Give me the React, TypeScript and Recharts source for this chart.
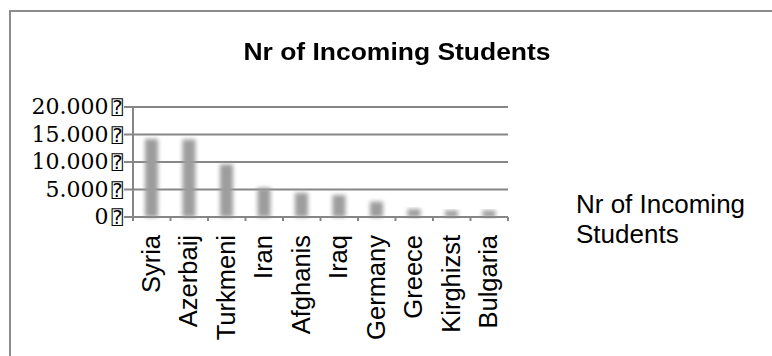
import { BarChart, Bar, XAxis, YAxis, CartesianGrid, Legend } from 'recharts';

// Incoming students per country of origin
const countries = ['Syria', 'Azerbaij', 'Turkmeni', 'Iran', 'Afghanis', 'Iraq', 'Germany', 'Greece', 'Kirghizst', 'Bulgaria'];
const students = [14200, 14100, 9600, 5300, 4400, 4000, 2800, 1450, 1200, 1200];
const yTicks = [0, 5000, 10000, 15000, 20000];
const seriesName = 'Nr of Incoming Students';

const data = countries.map((c, i) => ({ country: c, value: students[i] }));

const GRID = '#868686';
const SANS = "'Liberation Sans', Arial, sans-serif";

// 20000 -> "20.000"
const fmt = (v: number) => String(v).replace(/\B(?=(\d{3})+(?!\d))/g, '.');

function YTick(props: any) {
  const { x, y, payload } = props;
  return (
    <text x={x} y={y} dy={7} textAnchor="end" fontFamily="'DejaVu Serif', serif" fontSize={22} fill="#000">
      {fmt(payload.value)}
      <tspan dx={3} fontFamily="'DejaVu Sans Mono', 'DejaVu Sans', sans-serif" fontSize={19}>⍰</tspan>
    </text>
  );
}

function XTick(props: any) {
  const { x, y, payload, index } = props;
  const half = payload.offset || 18.75;
  return (
    <g>
      <line x1={x - half} y1={y} x2={x - half} y2={y + 4} stroke={GRID} strokeWidth={2} />
      {index === countries.length - 1 && (
        <line x1={x + half} y1={y} x2={x + half} y2={y + 4} stroke={GRID} strokeWidth={2} />
      )}
      <text
        x={x + 8}
        y={y + 18}
        transform={`rotate(-90, ${x + 8}, ${y + 18})`}
        textAnchor="end"
        fontFamily={SANS}
        fontSize={25.5}
        fill="#000"
      >
        {payload.value}
      </text>
    </g>
  );
}

// blurred bar, like the soft-edged columns of the original
function SoftBar(props: any) {
  const { x, y, width, height } = props;
  if (!height || height <= 0) return null;
  return <rect x={x} y={y} width={width} height={height} fill="#9d9d9d" filter="url(#soft)" />;
}

function LegendText(props: any) {
  const item = props.payload && props.payload[0];
  return (
    <div style={{ width: 190, fontFamily: SANS, fontSize: 26, lineHeight: '30px', color: '#000' }}>
      {item ? item.value : seriesName}
    </div>
  );
}

export default function App() {
  return (
    <div style={{ position: 'absolute', left: 0, top: 0, width: 772, height: 356, background: '#fff', overflow: 'hidden' }}>
      {/* chart frame, cut off at right and bottom */}
      <div style={{ position: 'absolute', left: 9, top: 10, width: 800, height: 400, borderLeft: '2px solid #8c8c8c', borderTop: '2px solid #8c8c8c' }} />
      <div
        style={{
          position: 'absolute',
          left: 0,
          width: 794,
          top: 41,
          textAlign: 'center',
          fontFamily: SANS,
          fontWeight: 'bold',
          fontSize: 23,
          lineHeight: '23px',
          transform: 'scaleX(1.15)',
          transformOrigin: '397px 0',
        }}
      >
        {seriesName}
      </div>
      <div style={{ position: 'absolute', left: 0, top: 0 }}>
        <BarChart width={772} height={356} data={data} margin={{ top: 107, right: 74, bottom: 0, left: 0 }} barCategoryGap={0}>
          <defs>
            <filter id="soft" x="-60%" y="-20%" width="220%" height="140%">
              <feGaussianBlur stdDeviation="2" />
            </filter>
          </defs>
          <XAxis
            dataKey="country"
            interval={0}
            tickLine={false}
            tickSize={0}
            tickMargin={0}
            height={139}
            axisLine={{ stroke: GRID, strokeWidth: 2 }}
            tick={<XTick />}
          />
          <YAxis
            width={133}
            domain={[0, 20000]}
            ticks={yTicks}
            interval={0}
            tickSize={9}
            tickMargin={1}
            tickLine={{ stroke: GRID, strokeWidth: 2 }}
            axisLine={{ stroke: GRID, strokeWidth: 2 }}
            tick={<YTick />}
          />
          <Legend
            layout="vertical"
            align="right"
            verticalAlign="middle"
            content={<LegendText />}
            wrapperStyle={{ left: 576, top: 189, width: 190 }}
          />
          <Bar dataKey="value" name={seriesName} barSize={13} shape={<SoftBar />} isAnimationActive={false} />
          {/* grid lines sit on top of the columns in the original */}
          <CartesianGrid vertical={false} stroke={GRID} strokeWidth={2} />
        </BarChart>
      </div>
    </div>
  );
}
